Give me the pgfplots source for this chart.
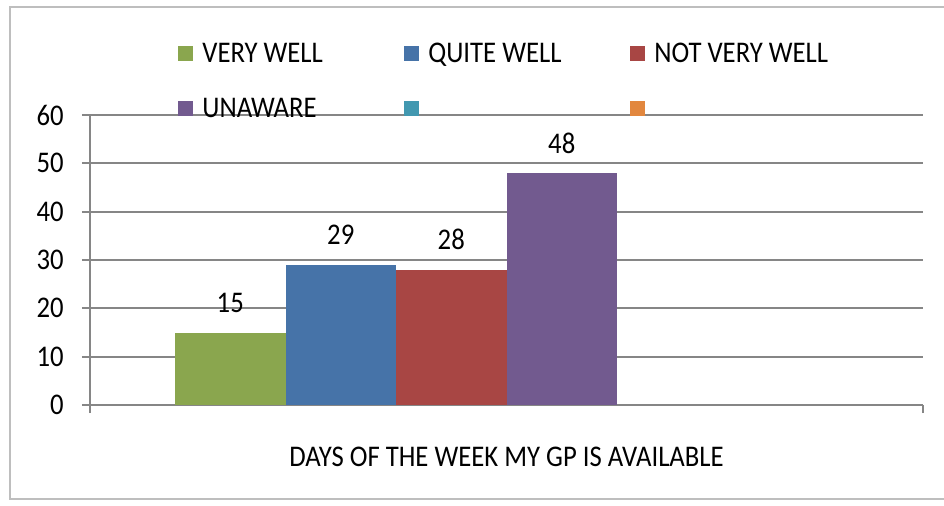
\documentclass[border=0pt]{standalone}
\usepackage{pgfplots}
\pgfplotsset{compat=1.18}
\usepackage{fontspec}
\setmainfont{Carlito}[FakeStretch=0.89]

\definecolor{cgreen}{HTML}{8AA64E}
\definecolor{cblue}{HTML}{4673A8}
\definecolor{cred}{HTML}{A84644}
\definecolor{cpurple}{HTML}{725A8F}
\definecolor{cteal}{HTML}{4298B0}
\definecolor{corange}{HTML}{E2873E}
\definecolor{gridgray}{HTML}{868686}
\definecolor{framegray}{HTML}{BEBEBE}

\pgfplotsset{
  sq legend/.style={legend image code/.code={\fill[##1] (0pt,0.75pt) rectangle (7.5pt,8.25pt);}},
}
\newcommand{\lentry}[1]{\makebox[96.5pt][l]{#1}}

\begin{document}
\fontsize{15}{17}\selectfont
\begin{tikzpicture}
  % picture is 944 x 505 px, 1 px = 0.5 pt
  \path[use as bounding box] (0pt,0pt) rectangle (472pt,-252.5pt);
  \draw[framegray, line width=1pt] (472pt,-249.5pt) -- (5pt,-249.5pt) -- (5pt,-3.5pt) -- (472pt,-3.5pt);

  \begin{axis}[
    at={(45pt,-202.5pt)}, anchor=south west,
    scale only axis, width=416.5pt, height=145pt,
    /pgf/number format/assume math mode=true,
    ybar,
    xmin=-0.5, xmax=0.5,
    ymin=0, ymax=60,
    axis x line=bottom, axis y line=left,
    axis line style={-, gridgray, line width=1pt},
    xtick={-0.5,0.5}, xticklabels={},
    ytick={0,10,...,60},
    tick align=outside,
    major tick length=4pt,
    tick style={gridgray, line width=1pt},
    ymajorgrids,
    grid style={gridgray, line width=1pt},
    yticklabel style={inner xsep=0pt, xshift=-9pt},
    xlabel={DAYS OF THE WEEK MY GP IS AVAILABLE},
    xlabel style={at={(axis description cs:0.5,0)}, anchor=center, yshift=-26pt},
    bar width=55.25pt,
    nodes near coords,
    every node near coord/.append style={anchor=base, yshift=10pt, inner sep=0pt, black},
    legend columns=3,
    legend style={draw=none, fill=none, inner sep=0pt, column sep=0pt, row sep=17.75pt,
      at={(axis description cs:0.1056,1.248)}, anchor=north west,
      nodes={inner xsep=4.5pt, inner ysep=0pt, text height=9.5pt, text depth=0pt, anchor=base west}},
  ]
    \addplot[sq legend, fill=cgreen, draw=none, bar shift=-138.125pt] coordinates {(0,15)};
    \addlegendentry{\lentry{VERY WELL}}
    \addplot[sq legend, fill=cblue, draw=none, bar shift=-82.875pt] coordinates {(0,29)};
    \addlegendentry{\lentry{QUITE WELL}}
    \addplot[sq legend, fill=cred, draw=none, bar shift=-27.625pt] coordinates {(0,28)};
    \addlegendentry{\lentry{NOT VERY WELL}}
    \addplot[sq legend, fill=cpurple, draw=none, bar shift=27.625pt] coordinates {(0,48)};
    \addlegendentry{\lentry{UNAWARE}}
    \addlegendimage{sq legend, fill=cteal, draw=none}
    \addlegendentry{\lentry{}}
    \addlegendimage{sq legend, fill=corange, draw=none}
    \addlegendentry{\lentry{}}
  \end{axis}
\end{tikzpicture}
\end{document}
